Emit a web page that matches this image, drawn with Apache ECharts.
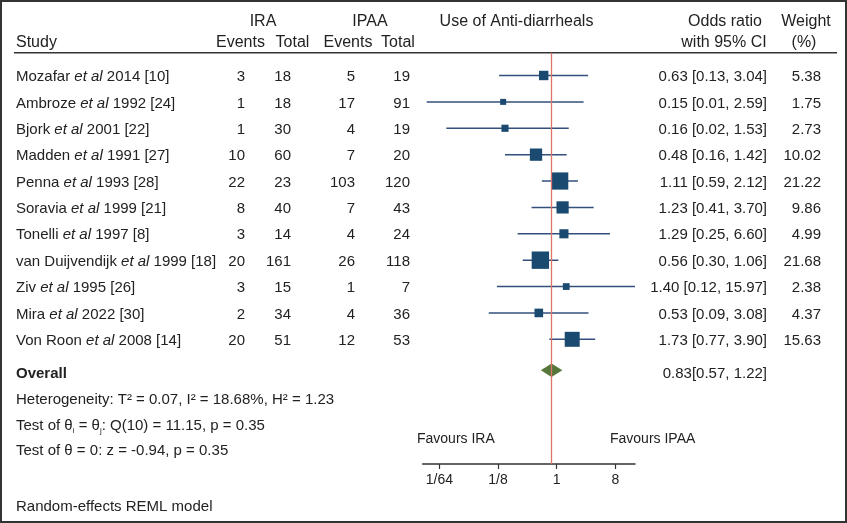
<!DOCTYPE html>
<html><head><meta charset="utf-8">
<script src="https://cdn.jsdelivr.net/npm/echarts@6/dist/echarts.min.js"></script>
<style>html,body{margin:0;padding:0;background:#fff}#c{width:847px;height:523px}</style>
</head><body><div id="c"></div>
<script>
const authors = ['Mozafar','Ambroze','Bjork','Madden','Penna','Soravia','Tonelli','van Duijvendijk','Ziv','Mira','Von Roon'];
const suffixes = ['2014 [10]','1992 [24]','2001 [22]','1991 [27]','1993 [28]','1999 [21]','1997 [8]','1999 [18]','1995 [26]','2022 [30]','2008 [14]'];
const iraEvents = [3,1,1,10,22,8,3,20,3,2,20];
const iraTotal = [18,18,30,60,23,40,14,161,15,34,51];
const ipaaEvents = [5,17,4,7,103,7,4,26,1,4,12];
const ipaaTotal = [19,91,19,20,120,43,24,118,7,36,53];
const oddsRatio = [0.63,0.15,0.16,0.48,1.11,1.23,1.29,0.56,1.40,0.53,1.73];
const ciLow = [0.13,0.01,0.02,0.16,0.59,0.41,0.25,0.30,0.12,0.09,0.77];
const ciHigh = [3.04,2.59,1.53,1.42,2.12,3.70,6.60,1.06,15.97,3.08,3.90];
const weights = [5.38,1.75,2.73,10.02,21.22,9.86,4.99,21.68,2.38,4.37,15.63];
const overallOR = 0.83, overallLow = 0.57, overallHigh = 1.22;
const tickValues = [1/64, 1/8, 1, 8];
const tickLabels = ['1/64','1/8','1','8'];

const FONT = '"Liberation Sans", Arial, sans-serif';
const TXT = '#222';
const BODY = 15, HEAD = 16, SMALL = 14;
const log2 = v => Math.log(v) / Math.LN2;
const f2 = v => v.toFixed(2);
const OVERALL_ROW = 11.17;

const forestData = oddsRatio.map((v, i) => [log2(v), i, log2(ciLow[i]), log2(ciHigh[i]), weights[i]]);
const tableData = authors.map((a, i) => [0, i]);

function txt(x, y, text, align, extra) {
  return {type: 'text', x: x, y: y, silent: true,
    style: Object.assign({text: text, fontFamily: FONT, fontSize: BODY, fill: TXT,
      align: align || 'left', verticalAlign: 'middle'}, extra || {})};
}
const H = {fontSize: HEAD};

const graphics = [
  {type: 'rect', shape: {x: 1, y: 1, width: 845, height: 521}, style: {fill: 'none', stroke: '#333', lineWidth: 2}, silent: true},
  {type: 'line', shape: {x1: 14, y1: 52.7, x2: 837, y2: 52.7}, style: {stroke: '#333', lineWidth: 1.5}, silent: true},
  txt(263, 21.5, 'IRA', 'center', H),
  txt(370, 21.5, 'IPAA', 'center', H),
  txt(516.5, 21.5, 'Use of Anti-diarrheals', 'center', H),
  txt(725, 21.5, 'Odds ratio', 'center', H),
  txt(806, 21.5, 'Weight', 'center', H),
  txt(16, 42.5, 'Study', 'left', H),
  txt(240.5, 42.5, 'Events', 'center', H),
  txt(292.5, 42.5, 'Total', 'center', H),
  txt(348, 42.5, 'Events', 'center', H),
  txt(398, 42.5, 'Total', 'center', H),
  txt(724, 42.5, 'with 95% CI', 'center', H),
  txt(804, 42.5, '(%)', 'center', H),
  txt(16, 374, 'Overall', 'left', {fontWeight: 'bold'}),
  txt(767, 374, f2(overallOR) + '[' + f2(overallLow) + ', ' + f2(overallHigh) + ']', 'right'),
  txt(16, 400, 'Heterogeneity: T\u00b2 = 0.07, I\u00b2 = 18.68%, H\u00b2 = 1.23'),
  txt(16, 425.5, '{n|Test of \u03b8}{s|i}{n| = \u03b8}{s|j}{n|: Q(10) = 11.15, p = 0.35}', 'left', {
    rich: {
      n: {fontFamily: FONT, fontSize: BODY, fill: TXT, lineHeight: 18},
      s: {fontFamily: FONT, fontSize: 8, fill: TXT, lineHeight: 8, verticalAlign: 'bottom'}
    }
  }),
  txt(16, 451, 'Test of \u03b8 = 0: z = -0.94, p = 0.35'),
  txt(16, 506.5, 'Random-effects REML model'),
  txt(417, 439, 'Favours IRA', 'left', {fontSize: SMALL}),
  txt(610, 439, 'Favours IPAA', 'left', {fontSize: SMALL})
];

const option = {
  animation: false,
  backgroundColor: '#fff',
  grid: {left: 422.7, right: 212, top: 52.7, bottom: 59, containLabel: false},
  xAxis: {
    type: 'value', min: -6.85, max: 4.0,
    axisLine: {show: true, onZero: false, lineStyle: {color: '#333', width: 1.5}},
    axisTick: {show: true, length: 5, customValues: tickValues.map(log2), lineStyle: {color: '#333', width: 1.2}},
    axisLabel: {show: true, margin: 9, customValues: tickValues.map(log2), color: TXT, fontSize: SMALL, fontFamily: FONT,
      formatter: v => { const k = tickValues.findIndex(t => Math.abs(log2(t) - v) < 1e-6); return k >= 0 ? tickLabels[k] : ''; }},
    splitLine: {show: false}
  },
  yAxis: {type: 'value', inverse: true, min: -0.864, max: 14.726, show: false},
  graphic: graphics,
  series: [
    {
      type: 'custom', name: 'studies', data: forestData, encode: {x: [0, 2, 3], y: 1},
      renderItem: (params, api) => {
        const p = api.coord([api.value(0), api.value(1)]);
        const l = api.coord([api.value(2), api.value(1)]);
        const h = api.coord([api.value(3), api.value(1)]);
        const s = 1.5 + 3.41 * Math.sqrt(api.value(4));
        return {type: 'group', children: [
          {type: 'line', shape: {x1: l[0], y1: l[1], x2: h[0], y2: h[1]}, style: {stroke: '#33507d', lineWidth: 1.5}},
          {type: 'rect', shape: {x: p[0] - s / 2, y: p[1] - s / 2, width: s, height: s}, style: {fill: '#1b4a70'}}
        ]};
      },
      markLine: {
        silent: true, symbol: 'none', label: {show: false},
        lineStyle: {color: '#de7468', width: 1.3, type: 'solid'},
        data: [{xAxis: log2(overallOR)}]
      },
      z: 3
    },
    {
      type: 'custom', name: 'overall', data: [[log2(overallOR), OVERALL_ROW, log2(overallLow), log2(overallHigh)]],
      encode: {x: [0, 2, 3], y: 1},
      renderItem: (params, api) => {
        const p = api.coord([api.value(0), api.value(1)]);
        const l = api.coord([api.value(2), api.value(1)]);
        const h = api.coord([api.value(3), api.value(1)]);
        const hh = 6.7;
        return {type: 'polygon', shape: {points: [[l[0], p[1]], [p[0], p[1] - hh], [h[0], p[1]], [p[0], p[1] + hh]]},
          style: {fill: '#56773a'}};
      },
      z: 4
    },
    {
      type: 'custom', name: 'table', data: tableData, encode: {x: 0, y: 1}, clip: false, silent: true,
      renderItem: (params, api) => {
        const i = params.dataIndex;
        const y = api.coord([0, api.value(1)])[1] + 1.5;
        return {type: 'group', children: [
          txt(16, y, '{n|' + authors[i] + ' }{i|et al}{n| ' + suffixes[i] + '}', 'left', {
            rich: {n: {fontFamily: FONT, fontSize: BODY, fill: TXT}, i: {fontFamily: FONT, fontSize: BODY, fill: TXT, fontStyle: 'italic'}}
          }),
          txt(245, y, String(iraEvents[i]), 'right'),
          txt(291, y, String(iraTotal[i]), 'right'),
          txt(355, y, String(ipaaEvents[i]), 'right'),
          txt(410, y, String(ipaaTotal[i]), 'right'),
          txt(767, y, f2(oddsRatio[i]) + ' [' + f2(ciLow[i]) + ', ' + f2(ciHigh[i]) + ']', 'right'),
          txt(821, y, f2(weights[i]), 'right')
        ]};
      }
    }
  ]
};
const chart = echarts.init(document.getElementById('c'));
chart.setOption(option);
</script>
</body></html>
